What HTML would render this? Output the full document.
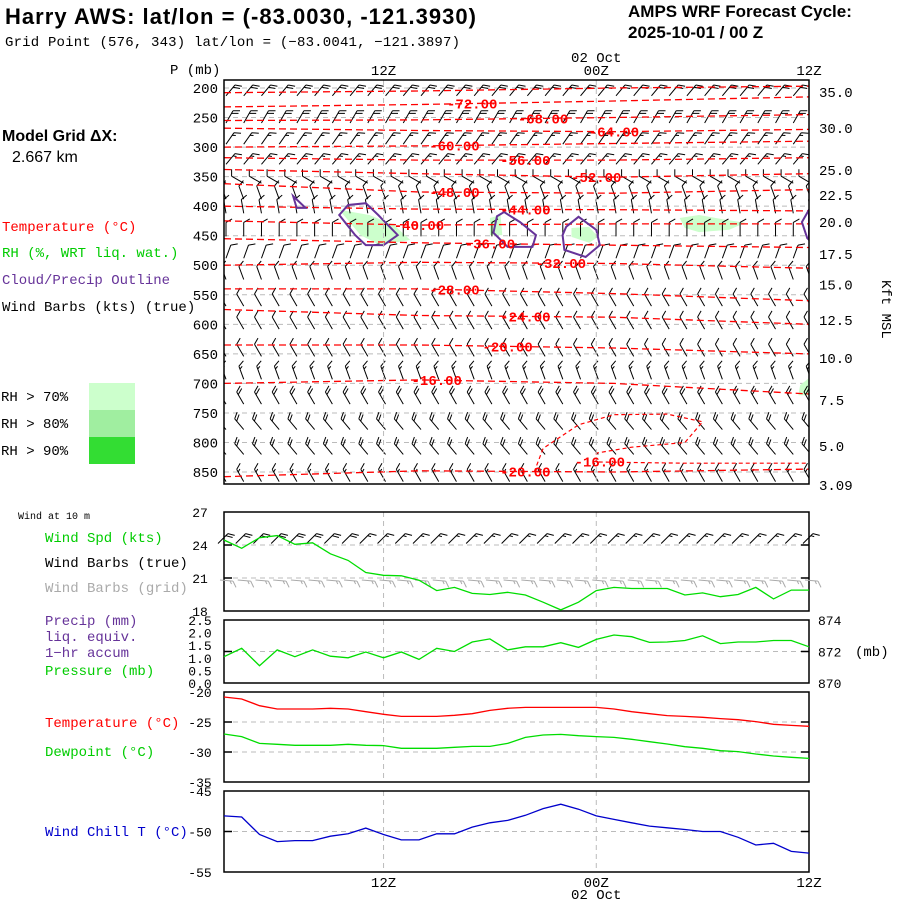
<!DOCTYPE html>
<html><head><meta charset="utf-8"><style>
html,body{margin:0;padding:0;background:#fff;}
svg{display:block;font-family:"Liberation Mono","DejaVu Sans Mono",monospace;}
.t{font-size:14px;}
</style></head><body>
<svg id="c" width="900" height="900" viewBox="0 0 900 900" xmlns="http://www.w3.org/2000/svg">
<defs><clipPath id="mainclip"><rect x="224" y="80" width="585" height="404"/></clipPath></defs>
<text x="5" y="24" font-family="Liberation Sans, sans-serif" font-weight="bold" font-size="22" textLength="471">Harry AWS:  lat/lon = (-83.0030, -121.3930)</text>
<text x="5" y="46" class="t" textLength="455">Grid Point (576, 343) lat/lon = (−83.0041, −121.3897)</text>
<text x="628" y="17" font-family="Liberation Sans, sans-serif" font-weight="bold" font-size="17">AMPS WRF Forecast Cycle:</text>
<text x="628" y="38" font-family="Liberation Sans, sans-serif" font-weight="bold" font-size="17">2025-10-01 / 00  Z</text>
<text x="2" y="141" font-family="Liberation Sans, sans-serif" font-weight="bold" font-size="16">Model Grid ΔX:</text>
<text x="12" y="162" font-family="Liberation Sans, sans-serif" font-size="16">2.667 km</text>
<text x="2" y="231" class="t" fill="#ff0000">Temperature (°C)</text>
<text x="2" y="257" class="t" fill="#00cc00">RH (%, WRT liq. wat.)</text>
<text x="2" y="284" class="t" fill="#663399">Cloud/Precip Outline</text>
<text x="2" y="311" class="t" fill="#000">Wind Barbs (kts) (true)</text>
<rect x="89" y="383" width="46" height="27" fill="#ccffcc"/>
<rect x="89" y="410" width="46" height="27" fill="#a0eea0"/>
<rect x="89" y="437" width="46" height="27" fill="#33dd33"/>
<text x="1" y="401" class="t">RH &gt; 70%</text>
<text x="1" y="428" class="t">RH &gt; 80%</text>
<text x="1" y="455" class="t">RH &gt; 90%</text>
<text x="18" y="519" font-size="10">Wind at 10 m</text>
<text x="45" y="542" class="t" fill="#00cc00">Wind Spd (kts)</text>
<text x="45" y="567" class="t">Wind Barbs (true)</text>
<text x="45" y="592" class="t" fill="#aaaaaa">Wind Barbs (grid)</text>
<text x="45" y="625" class="t" fill="#663399">Precip (mm)</text>
<text x="45" y="641" class="t" fill="#663399">liq. equiv.</text>
<text x="45" y="657" class="t" fill="#663399">1−hr accum</text>
<text x="45" y="675" class="t" fill="#00cc00">Pressure (mb)</text>
<text x="45" y="727" class="t" fill="#ff0000">Temperature (°C)</text>
<text x="45" y="756" class="t" fill="#00cc00">Dewpoint (°C)</text>
<text x="45" y="836" class="t" fill="#0000cc">Wind Chill T (°C)</text>
<text x="170" y="74" class="t">P (mb)</text>
<text x="0" y="0" class="t" transform="translate(882,280) rotate(90)">Kft MSL</text>
<text x="855" y="656" class="t">(mb)</text>
<g id="g"></g>
</svg>
<script>
// ---- data ----
const pLevels=[200,250,300,350,400,450,500,550,600,650,700,750,800,850];
const kftLabels=["35.0","30.0","25.0","22.5","20.0","17.5","15.0","12.5","10.0","7.5","5.0","3.09"];
const kftPress=[207,268,339,381,427,481,533,593,657,728,806,872];
const timeLabels=["12Z","00Z","12Z"];
const timeHours=[9,21,33];
const contourVals=[-76,-72,-68,-64,-60,-56,-52,-48,-44,-40,-36,-32,-28,-24,-20,-16,-20];
const contourHours=[0,11,22,33];
const contourP=[[208,205,200,197],[232,228,222,215],[255,254,250,245],[268,272,274,270],[300,298,294,290],[318,322,322,318],[338,345,351,345],[362,376,378,372],[400,405,406,408],[425,432,430,430],[455,462,466,470],[500,495,497,505],[540,540,548,560],[575,585,588,600],[635,635,640,650],[700,694,700,718],[858,848,850,845]];
const contourLabelHour=[-1,14,18,22,13,17,21,13,17,11,15,19,13,17,16,12,17];
const loopH=[17.5,18,20,22,25,27,26,23,21,21,26,33];
const loopP=[850,810,770,753,752,765,800,808,818,833,835,835];
const rhGreenH=[[6.5,8.2,9.6,10.5,8.8,7.7],[15,15.6,15.7,15],[19.6,20.6,21.1,20.6,19.6],[25.7,26.8,28.3,29.4,28.5,26.8,26],[32.5,33,33,32.4]];
const rhGreenP=[[406,415,432,457,466,449],[420,415,449,449],[437,435,452,462,452],[420,415,423,428,440,444,437],[703,691,720,720]];
const cloudH=[[6.5,7.0,8.0,8.7,9.8,9.0,8.0,7.4],[3.9,4.1,4.6],[15.4,15.8,16.7,17.6,17.4,16,15.2],[19.3,20,21,21.2,20.4,19.2,19.1],[33,32.6,32.9,33]];
const cloudP=[[415,398,395,415,449,466,466,449],[383,403,403],[417,410,427,449,469,469,445],[435,418,440,466,486,474,449],[406,427,454,457]];
const barbLevels=[203,249,285,319,351,378,402,441,478,514,559,598,644,683,725,768,810,856];
const barbDir=[40,30,35,40,300,340,350,0,20,340,330,330,330,340,330,320,320,330];
const barbSpd=[20,20,15,15,10,10,10,10,10,10,10,10,10,15,20,20,20,15];
const windSpd=[24.45,23.7,24.66,24.85,24.06,24.2,23.2,22.6,21.5,21.25,21.2,20.8,19.85,20.15,19.6,19.5,19.7,19.45,18.8,18.1,18.8,19.85,20.15,20.05,20.05,20.05,19.45,19.65,19.3,19.5,20.15,19.1,19.9,19.9];
const sfcPres=[871.67,872.2,871.1,872.1,871.67,872.1,871.7,871.6,871.97,871.6,871.97,871.5,872.2,872.0,872.6,872.8,872.1,872.3,872.3,872.56,872.26,872.77,873.05,872.94,872.58,872.6,872.7,873.0,872.5,872.6,872.6,872.7,872.7,872.3];
const temp=[-20.83,-21.17,-22.28,-22.83,-22.83,-22.83,-22.72,-22.83,-23.28,-23.72,-24.06,-24.06,-24.06,-23.89,-23.61,-23.06,-22.72,-22.56,-22.56,-22.56,-22.56,-22.56,-22.83,-23.28,-23.61,-23.94,-24.06,-24.22,-24.44,-24.61,-24.94,-25.39,-25.56,-25.72];
const dewp=[-27,-27.44,-28.56,-28.72,-28.89,-28.89,-28.89,-28.72,-28.89,-28.94,-29.39,-29.39,-29.39,-29.22,-29.06,-29.06,-28.56,-27.56,-27.17,-27.06,-27.28,-27.44,-27.56,-27.89,-28.28,-28.67,-29.11,-29.39,-29.78,-29.94,-30.33,-30.67,-30.89,-31.06];
const windChill=[-48.08,-48.21,-50.375,-51.25,-51.125,-51.125,-50.58,-50.29,-49.58,-50.375,-51.04,-51.04,-50.29,-50.29,-49.46,-48.92,-48.625,-48,-47.17,-46.625,-47.25,-48.08,-48.5,-48.92,-49.33,-49.54,-49.75,-50,-50,-50.71,-51.67,-51.46,-52.46,-52.67];
const spdTicks=[27,24,21,18];
const precipTicks=["2.5","2.0","1.5","1.0","0.5","0.0"];
const presTicks=[874,872,870];
const tempTicks=[-20,-25,-30,-35];
const wcTicks=[-45,-50,-55];

// ---- axes ----
const X0=224,X1=809,NH=33;
const xH=h=>X0+h*(X1-X0)/NH;
const yP=p=>88+(p-200)*0.5908;
const P1={t:512,b:611,lo:18,hi:27}, P2={t:620,b:683,lo:870,hi:874}, P3={t:692,b:782,lo:-35,hi:-20}, P4={t:791,b:872,lo:-55,hi:-45};
const yS=(P,v)=>P.b-(v-P.lo)/(P.hi-P.lo)*(P.b-P.t);

const NS="http://www.w3.org/2000/svg", G=document.getElementById('g');
function mk(tag,attrs,parent){const e=document.createElementNS(NS,tag);for(const k in attrs)e.setAttribute(k,attrs[k]);(parent||G).appendChild(e);return e;}
function txt(x,y,s,anchor,fill,size){const e=mk('text',{x:x,y:y,'text-anchor':anchor||'start',fill:fill||'#000','font-size':size||14});e.textContent=s;return e;}
const path=pts=>pts.map((p,i)=>(i?'L':'M')+p[0].toFixed(1)+' '+p[1].toFixed(1)).join(' ');

const MG=mk('g',{'clip-path':'url(#mainclip)'});



pLevels.forEach(p=>{
  const l=mk('line',{x1:X0,x2:X1,y1:yP(p),y2:yP(p),stroke:'#bbb','stroke-dasharray':'5,4'},MG);
  
  
  const t=txt(218,yP(p)+5,String(p),'end');
  
  
});
kftLabels.forEach((s,i)=>{
  const t=txt(819,yP(kftPress[i])+5,s);
  
  
});
timeHours.forEach((h,i)=>{
  if(i<2){[[80,484],[512,611],[620,683],[692,782],[791,872]].forEach(r=>{
    const l=mk('line',{x1:xH(h),x2:xH(h),y1:r[0],y2:r[1],stroke:'#bbb','stroke-dasharray':'5,4'});
    
    
  });}
  const t1=txt(xH(h),75,timeLabels[i],'middle');
  
  
  const t2=txt(xH(h),887,timeLabels[i],'middle');
  
  
});
const d1=txt(xH(21),62,'02 Oct','middle');


const d2=txt(xH(21),899,'02 Oct','middle');



rhGreenH.forEach((hs,i)=>{
  const e=mk('polygon',{points:hs.map((h,j)=>xH(h)+','+yP(rhGreenP[i][j])).join(' '),fill:'#ccffcc'},MG);
  
  
});
function barb(x,y,dir,spd,col,L,name,parent){
  const a=dir*Math.PI/180, ux=Math.sin(a), uy=-Math.cos(a);
  const ex=x+ux*L, ey=y+uy*L;
  let d='M'+x+' '+y+' L'+ex.toFixed(1)+' '+ey.toFixed(1);
  const b=a+Math.PI/3, bx=Math.sin(b)*7, by=-Math.cos(b)*7;
  let n=Math.floor(spd/10), half=(spd%10)>=5;
  for(let k=0;k<n;k++){const sx=ex-ux*3*k, sy=ey-uy*3*k;d+=' M'+sx.toFixed(1)+' '+sy.toFixed(1)+' l'+bx.toFixed(1)+' '+by.toFixed(1);}
  if(half){const sx=ex-ux*3*n, sy=ey-uy*3*n;d+=' M'+sx.toFixed(1)+' '+sy.toFixed(1)+' l'+(bx/2).toFixed(1)+' '+(by/2).toFixed(1);}
  const e=mk('path',{d:d,fill:'none',stroke:col,'stroke-width':1},parent);
  
  
}
barbLevels.forEach((p,i)=>{for(let h=0;h<=NH;h++)barb(xH(h)+2,yP(p)+6,barbDir[i],barbSpd[i],'#000',14,'upper-air-wind-barb',MG);});
contourVals.forEach((v,i)=>{
  const pts=contourHours.map((h,j)=>[xH(h),yP(contourP[i][j])]);
  const e=mk('path',{d:path(pts),fill:'none',stroke:'#ff0000','stroke-width':1.3,'stroke-dasharray':'7,4'},MG);
  
  
  const lh=contourLabelHour[i];
  if(lh>=0){
    let k=0;while(k<contourHours.length-2&&contourHours[k+1]<lh)k++;
    const f=(lh-contourHours[k])/(contourHours[k+1]-contourHours[k]);
    const p=contourP[i][k]+f*(contourP[i][k+1]-contourP[i][k]);
    const t=txt(xH(lh),yP(p)+5,v.toFixed(2),'middle','#ff0000',14);
    t.setAttribute('font-weight','bold');
    
    
  }
});
{
  const e=mk('path',{d:path(loopH.map((h,j)=>[xH(h),yP(loopP[j])])),fill:'none',stroke:'#ff0000','stroke-width':1.2,'stroke-dasharray':'4,3'},MG);
  
  
  const t=txt(xH(21.2),yP(832)+5,'-16.00','middle','#ff0000',14);
  t.setAttribute('font-weight','bold');
  
  
}
cloudH.forEach((hs,i)=>{
  const e=mk('polygon',{points:hs.map((h,j)=>xH(h)+','+yP(cloudP[i][j])).join(' '),fill:'none',stroke:'#663399','stroke-width':2},MG);
  
  
});
mk('rect',{x:X0,y:80,width:X1-X0,height:404,fill:'none',stroke:'#000','stroke-width':1.5,});

function panel(P,name,dashVals){
  dashVals.forEach(v=>{
    const l=mk('line',{x1:X0,x2:X1,y1:yS(P,v),y2:yS(P,v),stroke:'#bbb','stroke-dasharray':'5,4'});
    
    
    mk('line',{x1:X0,x2:X0+8,y1:yS(P,v),y2:yS(P,v),stroke:'#000','stroke-width':1.5});
    mk('line',{x1:X1-8,x2:X1,y1:yS(P,v),y2:yS(P,v),stroke:'#000','stroke-width':1.5});
  });
  const r=mk('rect',{x:X0,y:P.t,width:X1-X0,height:P.b-P.t,fill:'none',stroke:'#000','stroke-width':1.5});
  
  
}
panel(P1,'wind-panel-frame',[24,21]);
panel(P2,'pressure-panel-frame',[872]);
panel(P3,'temp-panel-frame',[-25,-30]);
panel(P4,'windchill-panel-frame',[-50]);
spdTicks.forEach(v=>{const t=txt(200,yS(P1,v)+5,String(v),'middle','#000',13);});
precipTicks.forEach((s,i)=>{const t=txt(200,P2.t+i*(P2.b-P2.t)/5+5,s,'middle','#000',13);});
presTicks.forEach(v=>{const t=txt(818,yS(P2,v)+5,String(v),'start','#000',13);});
tempTicks.forEach(v=>{const t=txt(200,yS(P3,v)+5,String(v),'middle','#000',13);});
wcTicks.forEach(v=>{const t=txt(200,yS(P4,v)+5,String(v),'middle','#000',13);});

for(let h=0;h<=NH;h++){
  barb(xH(h)-4,yS(P1,21)+2,95,15,'#aaa',13,'grid-wind-barb');
  barb(xH(h)-6,yS(P1,24.5)+4,45,windSpd[h]>=22?20:15,'#000',14,'sfc-wind-barb');
}
function series(P,vals,col,name){
  const e=mk('path',{d:path(vals.map((v,h)=>[xH(h),yS(P,v)])),fill:'none',stroke:col,'stroke-width':1.3});
  
  
}
series(P1,windSpd,'#00dd00','wind-speed-line');
series(P2,sfcPres,'#00dd00','surface-pressure-line');
series(P3,temp,'#ff0000','temperature-line');
series(P3,dewp,'#00dd00','dewpoint-line');
series(P4,windChill,'#0000cc','wind-chill-line');
</script>
</body></html>
